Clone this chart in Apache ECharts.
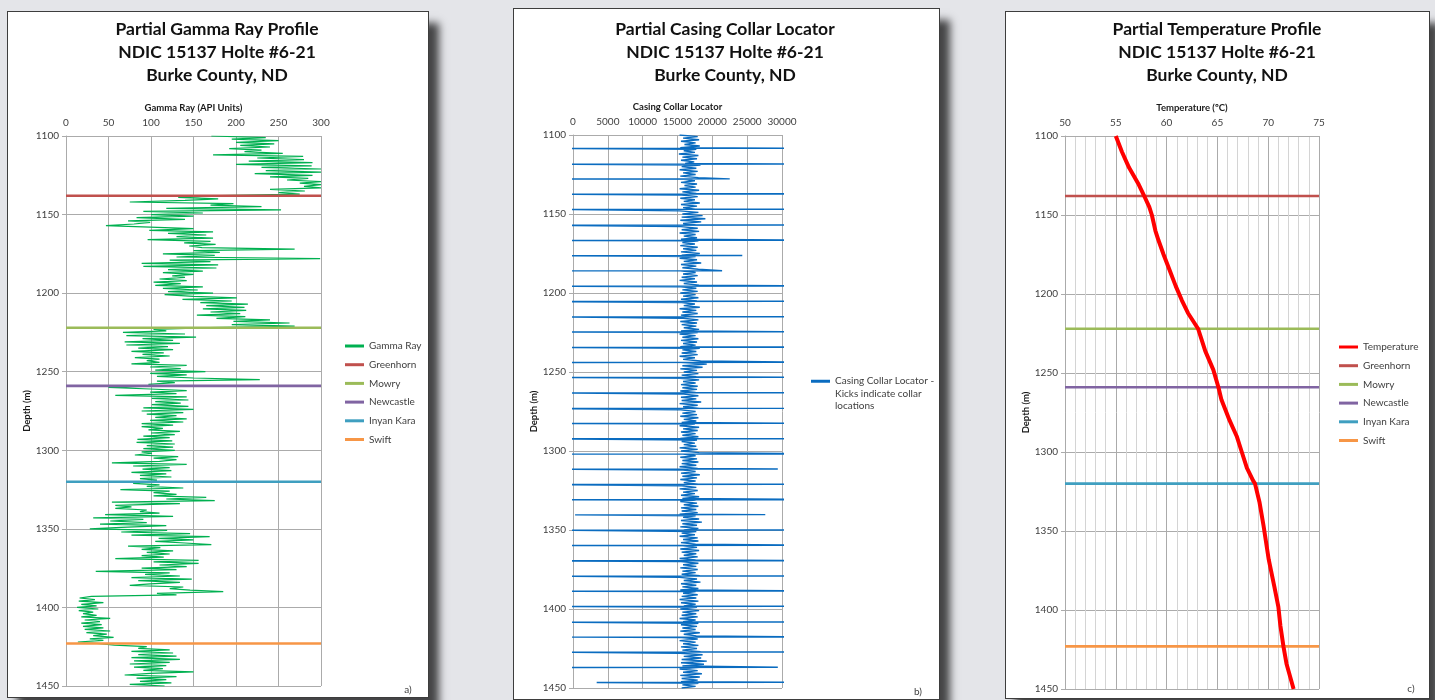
<!DOCTYPE html>
<html>
<head>
<meta charset="utf-8">
<title>Holte #6-21 logs</title>
<script src="https://cdn.jsdelivr.net/npm/echarts@6/dist/echarts.min.js"></script>
<style>
  html, body { margin: 0; padding: 0; background: #e4e5e9; }
  .panel { position: absolute; background: #fff; border: 1.5px solid #3d3d3d; box-sizing: border-box;
           box-shadow: 10px 12px 8px rgba(0, 0, 0, 0.7); }
  #chart { position: absolute; left: 0; top: 0; width: 1435px; height: 700px; }
</style>
</head>
<body>
<div class="panel" style="left:7px;top:11px;width:422px;height:687px"></div>
<div class="panel" style="left:513px;top:8px;width:427px;height:692px"></div>
<div class="panel" style="left:1005px;top:11px;width:425px;height:688px"></div>
<div id="chart"></div>
<script>
// formation tops (m)
const topNames = ['Greenhorn', 'Mowry', 'Newcastle', 'Inyan Kara', 'Swift']
const topDepths = [1138, 1222, 1259, 1320, 1423]

// gamma ray, API units, one reading per metre from 1100 m
const gammaTop = 1100
const gammaApi = [
  171, 235, 195, 250, 200, 245, 205, 240, 192, 230,
  210, 255, 173, 279, 225, 280, 215, 290, 200, 289,
  230, 300, 235, 300, 222, 290, 240, 285, 260, 300,
  275, 300, 280, 300, 240, 281, 250, 275, 180, 132,
  179, 140, 75, 197, 170, 230, 118, 253, 91, 161,
  100, 150, 83, 140, 73, 99, 80, 47, 99, 150,
  98, 173, 120, 165, 130, 173, 96, 170, 139, 176,
  145, 160, 269, 150, 181, 114, 175, 130, 299, 122,
  170, 89, 179, 91, 177, 120, 161, 114, 150, 125,
  140, 110, 142, 103, 135, 105, 161, 114, 155, 120,
  173, 116, 150, 201, 137, 195, 158, 214, 165, 210,
  161, 212, 170, 205, 154, 211, 177, 240, 197, 263,
  195, 269, 169, 103, 118, 67, 140, 71, 153, 90,
  126, 69, 134, 71, 120, 85, 126, 77, 115, 90,
  122, 81, 110, 95, 110, 77, 142, 99, 135, 105,
  164, 99, 142, 107, 150, 228, 107, 128, 97, 110,
  50, 99, 142, 99, 130, 58, 142, 101, 144, 105,
  135, 101, 144, 91, 150, 89, 138, 95, 130, 105,
  142, 99, 138, 89, 126, 89, 114, 97, 134, 100,
  128, 91, 122, 84, 125, 83, 128, 95, 126, 91,
  128, 89, 101, 81, 132, 103, 130, 110, 54, 142,
  79, 122, 90, 124, 77, 118, 87, 124, 87, 107,
  95, 79, 110, 95, 138, 64, 122, 103, 130, 103,
  165, 118, 175, 54, 134, 58, 77, 58, 95, 87,
  110, 46, 126, 32, 91, 52, 95, 40, 118, 65,
  28, 119, 65, 146, 77, 169, 109, 150, 105, 140,
  171, 73, 111, 89, 126, 95, 122, 89, 115, 58,
  156, 103, 156, 110, 142, 89, 130, 35, 122, 93,
  134, 77, 148, 85, 134, 99, 75, 138, 122, 146,
  185, 107, 130, 30, 16, 34, 15, 44, 18, 36,
  13, 38, 15, 32, 20, 36, 18, 52, 22, 40,
  18, 42, 20, 44, 22, 52, 24, 48, 32, 56,
  28, 44, 14, 40, 57, 95, 85, 122, 77, 126,
  85, 130, 77, 134, 80, 122, 75, 118, 80, 114,
  91, 150, 99, 69, 130, 83, 118, 87, 124, 75,
  116
]

// casing collar locator background signal, one reading per metre from 1100 m
const cclTop = 1100
const cclBase = [
  15300, 17900, 15800, 18100, 15500, 17600, 16000, 18200, 15400, 17700,
  15900, 17500, 15200, 18000, 15700, 17800, 15500, 17400, 16100, 18300,
  15600, 17700, 15300, 17900, 15800, 17600, 15400, 18000, 15900, 17500,
  15500, 17800, 16000, 17600, 15300, 18100, 15700, 17700, 15600, 17900,
  15400, 17500, 15900, 18200, 15500, 17800, 15800, 17600, 15300, 18000,
  15700, 18600, 15600, 19000, 15400, 18400, 15800, 17700, 15500, 17900,
  15600, 18100, 15300, 17600, 15900, 17800, 15500, 18000, 15700, 17500,
  15400, 17900, 15800, 17700, 15500, 18200, 15600, 17600, 15300, 17800,
  15900, 18400, 15500, 17700, 15700, 18000, 15400, 17600, 15800, 17900,
  15600, 17500, 15300, 17800, 15900, 18100, 15500, 17700, 15700, 17900,
  15400, 17600, 15800, 18000, 15500, 17800, 15600, 17500, 15900, 18200,
  15300, 17700, 15700, 17900, 15500, 17600, 15800, 18000, 15400, 17800,
  15600, 17700, 15900, 18100, 15500, 17900, 15300, 17600, 15700, 18000,
  15500, 17800, 15800, 17600, 15400, 18200, 15700, 17700, 15600, 17900,
  15300, 17500, 15800, 18300, 15500, 19200, 15700, 18600, 15400, 17800,
  15900, 18000, 15600, 17700, 15300, 18100, 15800, 17600, 15500, 17900,
  15700, 17800, 15400, 17600, 15900, 18000, 15500, 17700, 15600, 18400,
  15300, 17900, 15800, 18200, 15500, 17600, 15700, 17800, 15400, 18000,
  15900, 17700, 15600, 17500, 15300, 18100, 15800, 17900, 15500, 17600,
  15700, 18000, 15400, 17800, 15600, 17500, 15900, 17700, 15300, 17900,
  15500, 18100, 15800, 17600, 15400, 17800, 15700, 18000, 15600, 17700,
  15300, 17900, 15800, 17600, 15500, 18200, 15700, 17800, 15400, 17600,
  15900, 18000, 15600, 17700, 15300, 17900, 15800, 17500, 15500, 18100,
  15700, 17600, 15400, 17800, 15900, 18000, 15500, 17700, 15600, 17900,
  15300, 17600, 15800, 18100, 15500, 18500, 15700, 17800, 15400, 18000,
  15900, 17700, 15600, 17500, 15300, 17900, 15800, 18000, 15500, 17600,
  15700, 17800, 15400, 18100, 15600, 17700, 15900, 17900, 15300, 17600,
  15500, 18000, 15800, 17700, 15400, 17900, 15700, 17600, 15600, 18200,
  15300, 17800, 15900, 18300, 15500, 17700, 15700, 18000, 15400, 17600,
  15800, 17900, 15600, 17700, 15300, 18000, 15500, 17600, 15900, 17800,
  15400, 18100, 15700, 17700, 15600, 17900, 15300, 17600, 15800, 18000,
  15500, 17800, 15700, 17600, 15400, 18200, 15900, 17700, 15600, 17900,
  15300, 17600, 15800, 18000, 15500, 17800, 15700, 18300, 15400, 18600,
  15900, 18400, 15600, 19200, 15500, 18800, 15700, 18100, 15300, 17900,
  15800, 18500, 15400, 18200, 15600, 17900, 15500, 18000, 15700, 17600,
  15600
]
// collar kicks: depth (m), right swing and left swing of the tool reading
const kickDepth = [1108.4, 1118.4, 1127.8, 1137.3, 1147.0, 1157.0, 1166.6, 1176.3, 1185.9, 1195.6,
  1205.3, 1215.0, 1224.6, 1234.3, 1243.9, 1253.4, 1263.1, 1273.0, 1282.5, 1292.2,
  1301.9, 1311.4, 1321.1, 1330.8, 1340.3, 1350.0, 1359.7, 1369.4, 1379.1, 1388.6,
  1398.3, 1408.2, 1417.7, 1427.2, 1436.9, 1446.4]
const kickRight = [36000, 36000, 22500, 36000, 36000, 36000, 36000, 24300, 21400, 36000,
  36000, 36000, 36000, 36000, 36000, 36000, 36000, 36000, 36000, 36000,
  36000, 29400, 36000, 36000, 27600, 36000, 36000, 36000, 36000, 36000,
  36000, 36000, 36000, 36000, 29400, 36000]
const kickLeft = [-3000, -3000, -3000, -3000, -3000, -3000, -3000, -3000, -3000, -3000,
  -3000, -3000, -3000, -3000, -3000, -3000, -3000, -3000, -3000, -3000,
  -3000, -3000, -3000, -3000, 300, -3000, -3000, -3000, -3000, -3000,
  -3000, -3000, -3000, -3000, -3000, 3400]

// temperature (deg C) against depth (m)
const tempDepth = [1100, 1110, 1120, 1130, 1138, 1145, 1150, 1160, 1166, 1175, 1185, 1195, 1204, 1212,
  1222, 1230, 1236, 1248, 1259, 1267, 1280, 1290, 1300, 1310, 1318, 1320, 1332, 1347, 1368, 1385,
  1398, 1410, 1423, 1434, 1450]
const tempC = [55.0, 55.6, 56.3, 57.2, 57.8, 58.3, 58.55, 58.9, 59.2, 59.7, 60.3, 60.9, 61.5, 62.1,
  63.1, 63.5, 63.8, 64.6, 65.1, 65.4, 66.2, 66.9, 67.4, 67.9, 68.5, 68.7, 69.15, 69.55, 70.05, 70.6,
  71.0, 71.2, 71.5, 71.8, 72.5]

const topColors = { Greenhorn: '#c0504d', Mowry: '#9bbb59', Newcastle: '#8064a2', 'Inyan Kara': '#3f9fc0', Swift: '#f79646' }
const font = 'Lato'
const grey = '#ababab'
const textGrey = '#404040'

const gammaData = gammaApi.map((v, i) => [v, gammaTop + i])
const cclData = []
let k = 0
cclBase.forEach((v, i) => {
  const d = cclTop + i
  cclData.push([v, d])
  while (k < kickDepth.length && kickDepth[k] < d + 1) {
    cclData.push([kickRight[k], kickDepth[k]])
    cclData.push([kickLeft[k], kickDepth[k] + 0.1])
    k++
  }
})
const tempData = tempC.map((t, i) => [t, tempDepth[i]])

const plain = (v) => String(v)

function depthAxis(gridIndex) {
  return {
    type: 'value', gridIndex, inverse: true, min: 1100, max: 1450, interval: 50,
    name: 'Depth (m)', nameLocation: 'middle', nameGap: 33, nameRotate: 90,
    nameTextStyle: { fontFamily: font, fontSize: 9.5, fontWeight: 'bold', color: '#1a1a1a' },
    axisLine: { show: true, onZero: false, lineStyle: { color: grey } },
    axisTick: { show: true, length: 4, lineStyle: { color: grey } },
    axisLabel: { fontFamily: font, fontSize: 10, color: textGrey, margin: 7, formatter: plain },
    splitLine: { show: true, lineStyle: { color: grey } }
  }
}

function topAxis(gridIndex, name, min, max, interval, extra) {
  return Object.assign({
    type: 'value', gridIndex, position: 'top', min, max, interval,
    name, nameLocation: 'middle', nameGap: 22,
    nameTextStyle: { fontFamily: font, fontSize: 9.5, fontWeight: 'bold', color: '#1a1a1a' },
    axisLine: { show: true, onZero: false, lineStyle: { color: grey } },
    axisTick: { show: false },
    axisLabel: { fontFamily: font, fontSize: 10, color: textGrey, margin: 8, formatter: plain },
    splitLine: { show: true, lineStyle: { color: grey } }
  }, extra)
}

function title(text, x) {
  return {
    text, left: x, top: 18, textAlign: 'center', padding: 0,
    textStyle: { fontFamily: font, fontSize: 17.5, fontWeight: 'bold', lineHeight: 23, color: '#111' }
  }
}

function legend(names, left, top) {
  return {
    data: names, orient: 'vertical', left, top, padding: 0, icon: 'rect',
    itemWidth: 19, itemHeight: 3, itemGap: 6.7, selectedMode: false,
    textStyle: { fontFamily: font, fontSize: 10, color: textGrey, lineHeight: 12 }
  }
}

function topSeries(axisIndex, xMin, xMax) {
  return topNames.map((n, i) => ({
    name: n, type: 'line', xAxisIndex: axisIndex, yAxisIndex: axisIndex, symbol: 'none', z: 3,
    data: [[xMin, topDepths[i]], [xMax, topDepths[i]]],
    itemStyle: { color: topColors[n] },
    lineStyle: { color: topColors[n], width: 2.6 }
  }))
}

const cclName = 'Casing Collar Locator - Kicks indicate collar locations'

const option = {
  animation: false,
  title: [
    title('Partial Gamma Ray Profile\nNDIC 15137 Holte #6-21\nBurke County, ND', 217),
    title('Partial Casing Collar Locator\nNDIC 15137 Holte #6-21\nBurke County, ND', 725),
    title('Partial Temperature Profile\nNDIC 15137 Holte #6-21\nBurke County, ND', 1217)
  ],
  grid: [
    { left: 66, top: 136, width: 255, height: 550 },
    { left: 573, top: 135, width: 209, height: 553 },
    { left: 1065, top: 136, width: 254, height: 553 }
  ],
  xAxis: [
    topAxis(0, 'Gamma Ray (API Units)', 0, 300, 50),
    topAxis(1, 'Casing Collar Locator', 0, 30000, 5000),
    topAxis(2, 'Temperature (ºC)', 50, 75, 5, {
      minorTick: { show: false, splitNumber: 5 },
      minorSplitLine: { show: true, lineStyle: { color: '#d4d4d4' } }
    })
  ],
  yAxis: [depthAxis(0), depthAxis(1), depthAxis(2)],
  legend: [
    legend(['Gamma Ray', ...topNames], 345, 340),
    Object.assign(legend([cclName], 811, 350), {
      formatter: () => '\n\nCasing Collar Locator -\nKicks indicate collar\nlocations',
      textStyle: { fontFamily: font, fontSize: 10, color: textGrey, lineHeight: 12.5 }
    }),
    legend(['Temperature', ...topNames], 1339, 341)
  ],
  graphic: [
    { type: 'text', x: 408, y: 690, style: { text: 'a)', font: '10px Lato', fill: textGrey, align: 'center', verticalAlign: 'middle' } },
    { type: 'text', x: 918, y: 692, style: { text: 'b)', font: '10px Lato', fill: textGrey, align: 'center', verticalAlign: 'middle' } },
    { type: 'text', x: 1411, y: 689, style: { text: 'c)', font: '10px Lato', fill: textGrey, align: 'center', verticalAlign: 'middle' } }
  ],
  series: [
    {
      name: 'Gamma Ray', type: 'line', xAxisIndex: 0, yAxisIndex: 0, symbol: 'none', z: 2,
      data: gammaData, itemStyle: { color: '#00b050' }, lineStyle: { color: '#00b050', width: 1.2 }
    },
    ...topSeries(0, 0, 300),
    {
      name: cclName, type: 'line', xAxisIndex: 1, yAxisIndex: 1, symbol: 'none',
      data: cclData, itemStyle: { color: '#0a6cc0' }, lineStyle: { color: '#0a6cc0', width: 1.4 }
    },
    ...topSeries(2, 50, 75),
    {
      name: 'Temperature', type: 'line', xAxisIndex: 2, yAxisIndex: 2, symbol: 'none', z: 4,
      data: tempData, itemStyle: { color: '#ff0000' }, lineStyle: { color: '#ff0000', width: 4 }
    }
  ]
}

const chart = echarts.init(document.getElementById('chart'))
chart.setOption(option)
</script>
</body>
</html>
